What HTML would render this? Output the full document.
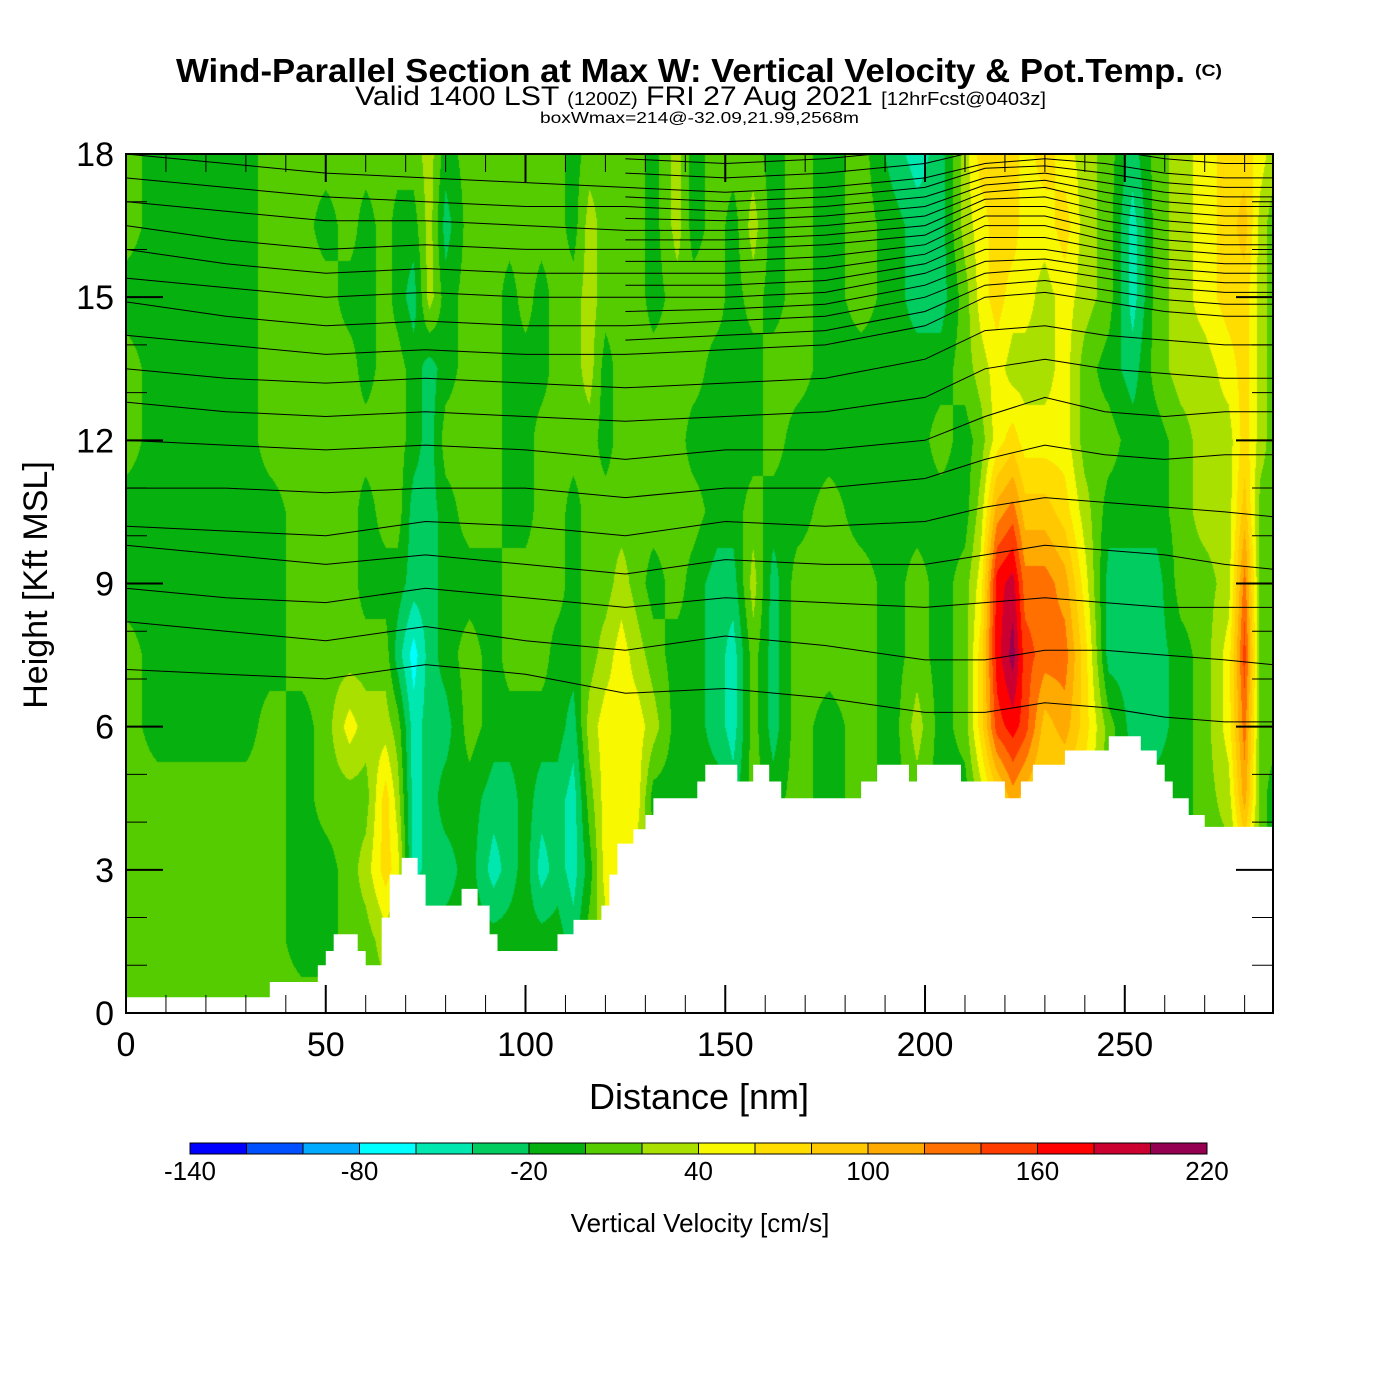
<!DOCTYPE html>
<html><head><meta charset="utf-8"><style>
html,body{margin:0;padding:0;background:#fff;width:1400px;height:1400px;overflow:hidden}
#wrap{position:relative;width:1400px;height:1400px}
#field{position:absolute;left:126px;top:154px}
#svg{position:absolute;left:0;top:0}
text{font-family:"Liberation Sans",sans-serif}
</style></head><body>
<div id="wrap">
<canvas id="field" width="1147" height="859"></canvas>
<svg id="svg" width="1400" height="1400" xmlns="http://www.w3.org/2000/svg">
<text x="176" y="82" font-size="33" font-weight="bold" textLength="1009" lengthAdjust="spacingAndGlyphs">Wind-Parallel Section at Max W: Vertical Velocity &amp; Pot.Temp.</text>
<text x="1195" y="76" font-size="17" font-weight="bold" textLength="27" lengthAdjust="spacingAndGlyphs">(C)</text>
<text x="355" y="105" font-size="27" textLength="691" lengthAdjust="spacingAndGlyphs">Valid 1400 LST <tspan font-size="18">(1200Z)</tspan> FRI 27 Aug 2021 <tspan font-size="18">[12hrFcst@0403z]</tspan></text>
<text x="540" y="123" font-size="16" textLength="319" lengthAdjust="spacingAndGlyphs">boxWmax=214@-32.09,21.99,2568m</text>
<g id="contours"></g>
<g id="terrain"></g>
<g id="ticks"></g>
<rect x="126" y="154" width="1147" height="859" fill="none" stroke="#000" stroke-width="2"/>
<g id="xlabels"></g>
<g id="ylabels"></g>
<text x="699" y="1109" font-size="36" text-anchor="middle">Distance [nm]</text>
<text transform="translate(47,585) rotate(-90)" font-size="34" text-anchor="middle">Height [Kft MSL]</text>
<g id="colorbar"></g>
<text x="700" y="1232" font-size="26" text-anchor="middle">Vertical Velocity [cm/s]</text>
</svg>
</div>
<script>
// ---- data ----
const binEdges = [-140,-120,-100,-80,-60,-40,-20,0,20,40,60,80,100,120,140,160,180,200,220];
const binColors = ["#0000ff","#0050ff","#00aaff","#00ffff","#00e8b0","#00cc60","#06b00f","#55cc00","#aae000","#f8f800","#ffdd00","#ffc800","#ffaa00","#ff7000","#ff3c00","#ff0000","#cc0030","#960050"];
const cbLabels = [-140,-80,-20,40,100,160,220];
const xTicks = [0,50,100,150,200,250];
const yTicks = [0,3,6,9,12,15,18];
const levels = [0,1.5,3,4.5,6,7.5,9,10.5,12,13.5,15,16.5,18];
const xNodes = [0,8,20,30,36,44,50,56,60,65,68,72,76,80,86,92,96,100,104,108,112,116,120,124,128,132,138,142,148,152,157,162,168,176,184,192,198,204,210,214,218,222,225,230,235,240,246,252,258,264,270,276,280,284,287];
const wCols = [
[10,10,10,10,10,10,-10,-10,10,10,-10,10,10],
[10,10,10,10,-10,-10,-10,-10,-10,-10,-10,-10,-10],
[10,10,10,10,-10,-10,-10,-10,-10,-10,-10,-10,-10],
[10,10,10,10,-10,-10,-10,-10,-10,-10,-10,-10,-10],
[10,10,10,10,10,-10,-10,-10,10,10,10,10,10],
[10,-10,-10,-10,-10,10,10,10,10,10,10,10,10],
[10,-10,-10,10,10,10,10,10,10,10,10,-10,10],
[10,10,10,10,50,10,10,10,10,10,-10,10,10],
[10,10,30,10,30,10,-10,-10,10,-10,-10,-10,10],
[10,30,70,70,30,10,-10,10,10,10,10,10,10],
[10,10,50,30,10,-30,-10,10,10,10,-10,-10,10],
[10,10,-50,-50,-50,-70,-30,-30,-10,-10,-30,-10,10],
[-10,-10,-30,-30,-30,-30,-30,-30,-30,-30,30,30,30],
[-10,-10,-30,-10,-30,-10,-10,-10,10,-10,-10,-30,-10],
[-10,-10,-10,-10,10,10,-10,10,10,10,10,10,10],
[-10,-10,-50,-30,-10,-10,-10,10,10,10,10,10,10],
[-10,-10,-30,-30,-10,10,10,-10,-10,-10,-10,10,10],
[-10,-10,-10,-10,-10,10,10,-10,-10,-10,10,10,10],
[-10,-10,-50,-30,-10,10,10,10,10,-10,-10,10,10],
[-10,-10,-30,-30,-10,-10,10,10,10,10,10,10,10],
[-30,-30,-50,-50,-30,-10,-10,-10,10,10,10,-10,-10],
[10,10,-10,10,30,10,10,10,10,30,30,30,10],
[10,30,50,50,50,30,10,10,-10,-10,10,10,10],
[10,30,50,50,50,50,30,10,10,10,10,10,10],
[10,10,30,50,50,30,10,10,10,10,10,10,10],
[10,10,10,-10,30,10,-10,10,10,10,-10,-10,-10],
[-10,-10,-10,-10,-10,-10,10,10,10,10,10,30,30],
[-10,-10,-10,-10,-10,-10,-10,10,-10,10,10,-10,-10],
[-10,-10,-10,-10,-30,-30,-30,-10,-10,-10,10,10,10],
[-10,-10,-10,-30,-50,-50,-30,-10,-10,-10,-10,-10,10],
[-10,-10,-10,10,10,10,30,10,-10,-10,10,30,10],
[-10,-10,-10,-10,-30,-30,-30,-10,10,10,-10,-10,-10],
[10,10,10,10,10,10,10,-10,-10,10,10,10,10],
[-10,-10,-10,-10,-10,10,10,10,-10,-10,-10,-10,-10],
[10,10,10,10,10,10,10,-10,-10,-10,10,10,10],
[-10,-10,-10,-10,-10,-10,-10,-10,-10,-10,-10,-10,-30],
[10,10,10,10,30,10,10,-10,-10,-10,-30,-30,-50],
[-10,-10,-10,-10,-10,-10,-10,-10,10,-10,-30,-30,-30],
[-10,-10,-10,-10,10,10,10,-10,-10,10,10,30,30],
[10,10,10,30,70,70,50,30,10,30,50,50,70],
[10,10,10,70,150,170,170,110,50,50,70,70,70],
[30,30,50,110,170,210,190,130,70,30,50,70,70],
[30,30,50,90,150,150,130,90,50,30,50,50,50],
[30,30,50,70,90,130,130,90,50,30,30,50,70],
[30,30,50,70,110,130,110,70,50,50,50,70,50],
[10,10,30,50,70,70,50,30,10,10,30,30,30],
[10,10,10,10,10,-30,-30,-10,10,-10,10,10,10],
[-10,-10,-10,-10,-30,-30,-30,-10,-10,-30,-50,-50,-30],
[-10,-10,-10,-10,-30,-30,-30,-10,-10,10,10,10,10],
[-10,-10,-10,-10,-10,-10,10,10,10,30,30,30,30],
[10,10,10,10,10,10,10,30,30,30,50,50,50],
[10,10,10,30,50,50,30,30,30,50,70,70,70],
[30,30,50,110,130,150,130,90,70,70,70,90,70],
[10,10,10,10,10,10,10,10,30,30,30,30,50],
[-10,-10,-10,-10,10,10,10,10,10,10,10,10,30]
];
// terrain steps: start distance and height (kft)
const terrX = [0,36,48,50,52,58,60,64,66,69,73,75,84,88,91,93,108,112,119,121,123,127,130,132,143,145,153,157,161,164,184,188,196,198,209,220,224,227,235,246,254,258,260,262,266,270,287];
const terrH = [0.33,0.65,1.0,1.3,1.65,1.3,1.0,2.0,2.9,3.25,2.9,2.25,2.6,2.25,1.65,1.3,1.65,1.95,2.25,2.9,3.55,3.85,4.15,4.5,4.85,5.2,4.85,5.2,4.85,4.5,4.85,5.2,4.85,5.2,4.85,4.5,4.85,5.2,5.5,5.8,5.5,5.2,4.85,4.5,4.15,3.9,3.9];
// isentropes: heights (kft) at thetaX
const thetaX = [0,25,50,75,100,125,150,175,200,215,230,245,260,275,287];
const thetaLines = [
[18.0,17.8,17.6,17.5,17.4,17.3,17.2,17.3,17.5,17.8,17.9,17.8,17.6,17.5,17.5],
[17.5,17.3,17.1,17.0,16.9,16.9,16.8,16.9,17.1,17.5,17.6,17.4,17.2,17.1,17.1],
[17.0,16.8,16.6,16.6,16.5,16.4,16.4,16.5,16.7,17.2,17.3,17.0,16.8,16.7,16.7],
[16.5,16.2,16.0,16.1,16.0,16.0,16.0,16.1,16.3,16.9,16.9,16.6,16.4,16.3,16.3],
[16.0,15.7,15.5,15.6,15.5,15.5,15.5,15.6,15.9,16.5,16.5,16.2,16.0,15.9,15.9],
[15.4,15.2,15.0,15.1,15.0,15.0,15.0,15.1,15.5,16.0,16.0,15.8,15.6,15.5,15.5],
[14.9,14.6,14.4,14.5,14.4,14.4,14.5,14.6,15.0,15.5,15.6,15.4,15.2,15.1,15.1],
[14.2,14.0,13.8,13.9,13.8,13.8,13.9,14.0,14.4,15.0,15.1,14.9,14.7,14.6,14.6],
[13.5,13.3,13.2,13.3,13.2,13.1,13.2,13.3,13.7,14.3,14.4,14.2,14.1,14.0,14.0],
[12.8,12.6,12.5,12.6,12.5,12.4,12.5,12.6,12.9,13.5,13.7,13.5,13.4,13.3,13.3],
[12.0,11.9,11.8,11.9,11.8,11.6,11.8,11.8,12.0,12.5,12.9,12.6,12.5,12.6,12.6],
[11.0,11.0,10.9,11.0,11.0,10.8,11.0,11.0,11.2,11.6,11.9,11.7,11.6,11.7,11.7],
[10.2,10.1,10.0,10.3,10.2,10.0,10.3,10.2,10.3,10.6,10.8,10.7,10.6,10.5,10.4],
[9.8,9.6,9.4,9.6,9.4,9.2,9.5,9.4,9.4,9.6,9.8,9.7,9.6,9.4,9.3],
[8.9,8.7,8.6,8.9,8.7,8.5,8.7,8.6,8.5,8.6,8.7,8.6,8.5,8.5,8.5],
[8.2,8.0,7.8,8.1,7.8,7.6,7.9,7.7,7.4,7.4,7.6,7.6,7.5,7.4,7.3],
[7.2,7.1,7.0,7.3,7.1,6.7,6.8,6.6,6.3,6.3,6.5,6.4,6.2,6.1,6.1]
];
// additional upper isentropes present only on the eastern half
const thetaX2 = [125,150,175,200,215,230,245,260,275,287];
const thetaLines2 = [
[17.9,17.8,17.9,18.1,18.4,18.5,18.4,18.2,18.1,18.1],
[17.6,17.5,17.6,17.8,18.1,18.2,18.1,17.9,17.8,17.8],
[17.1,17.0,17.1,17.3,17.7,17.75,17.6,17.4,17.3,17.3],
[16.65,16.6,16.7,16.9,17.35,17.45,17.2,17.0,16.9,16.9],
[16.2,16.2,16.3,16.5,17.05,17.1,16.8,16.6,16.5,16.5],
[15.75,15.75,15.85,16.1,16.7,16.7,16.4,16.2,16.1,16.1],
[15.25,15.25,15.35,15.7,16.25,16.25,16.0,15.8,15.7,15.7],
[14.7,14.75,14.85,15.25,15.75,15.8,15.6,15.4,15.3,15.3],
[14.1,14.2,14.3,14.7,15.25,15.35,15.15,14.95,14.85,14.85]
];
// ---- axes ----
const PX0=126, PX1=1273, PY0=1013, PY1=154, XMAX=287.1, YMAX=18;
const sx = d => PX0 + d*(PX1-PX0)/XMAX;
const sy = h => PY0 - h*(PY0-PY1)/YMAX;
const NS="http://www.w3.org/2000/svg";
function mk(tag, attrs, parent){const e=document.createElementNS(NS,tag);for(const k in attrs)e.setAttribute(k,attrs[k]);parent.appendChild(e);return e;}

// ---- field ----
(function(){
  const cv=document.getElementById('field'); const ctx=cv.getContext('2d');
  const W=cv.width,H=cv.height; const img=ctx.createImageData(W,H);
  const rgb=binColors.map(c=>[parseInt(c.substr(1,2),16),parseInt(c.substr(3,2),16),parseInt(c.substr(5,2),16)]);
  const colI=[],colT=[];
  for(let px=0;px<W;px++){
    const d=(px+0.5)*XMAX/W; let i=0;
    while(i<xNodes.length-2 && d>xNodes[i+1]) i++;
    colI.push(i); colT.push(Math.min(1,Math.max(0,(d-xNodes[i])/(xNodes[i+1]-xNodes[i]))));
  }
  for(let py=0;py<H;py++){
    const h=(H-py-0.5)*YMAX/H; let j=Math.min(levels.length-2,Math.floor(h/1.5)); const u=(h-levels[j])/1.5;
    for(let px=0;px<W;px++){
      const i=colI[px],t=colT[px];
      const a=wCols[i][j]*(1-u)+wCols[i][j+1]*u, b=wCols[i+1][j]*(1-u)+wCols[i+1][j+1]*u;
      const v=a*(1-t)+b*t;
      let k=0; while(k<binColors.length-1 && v>=binEdges[k+1]) k++;
      const o=(py*W+px)*4; img.data[o]=rgb[k][0];img.data[o+1]=rgb[k][1];img.data[o+2]=rgb[k][2];img.data[o+3]=255;
    }
  }
  ctx.putImageData(img,0,0);
})();
// ---- contours ----
(function(){
  const g=document.getElementById('contours');
  const clip=mk('clipPath',{id:'pc'},g); mk('rect',{x:PX0,y:PY1,width:PX1-PX0,height:PY0-PY1},clip);
  thetaLines.forEach((line,n)=>{
    const pts=line.map((h,i)=>sx(thetaX[i]).toFixed(1)+','+sy(h).toFixed(1)).join(' ');
    const p=mk('polyline',{points:pts,fill:'none',stroke:'#000','stroke-width':1,'clip-path':'url(#pc)'},g);
    
    
  });
  thetaLines2.forEach((line,n)=>{
    const pts=line.map((h,i)=>sx(thetaX2[i]).toFixed(1)+','+sy(h).toFixed(1)).join(' ');
    const p=mk('polyline',{points:pts,fill:'none',stroke:'#000','stroke-width':1,'clip-path':'url(#pc)'},g);
    
    
  });
})();
// ---- terrain ----
(function(){
  const g=document.getElementById('terrain');
  let d='M'+sx(0)+','+sy(0);
  for(let i=0;i<terrX.length-1;i++){
    d+=' L'+sx(terrX[i]).toFixed(1)+','+sy(terrH[i]).toFixed(1)+' L'+sx(terrX[i+1]).toFixed(1)+','+sy(terrH[i]).toFixed(1);
  }
  d+=' L'+PX1+','+sy(terrH[terrH.length-1]).toFixed(1)+' L'+PX1+','+PY0+' Z';
  const p=mk('path',{d:d,fill:'#fff'},g);
  
  
})();
// ---- ticks ----
(function(){
  const g=document.getElementById('ticks');
  for(let d=0;d<=280;d+=10){
    const maj=d%50===0, L=maj?28:18, x=sx(d);
    mk('line',{x1:x,y1:PY0,x2:x,y2:PY0-L,stroke:'#000','stroke-width':maj?2:1},g);
    mk('line',{x1:x,y1:PY1,x2:x,y2:PY1+L,stroke:'#000','stroke-width':maj?2:1},g);
  }
  for(let h=0;h<=18;h+=1){
    const maj=h%3===0, L=maj?37:21, y=sy(h);
    mk('line',{x1:PX0,y1:y,x2:PX0+L,y2:y,stroke:'#000','stroke-width':maj?2:1},g);
    mk('line',{x1:PX1,y1:y,x2:PX1-L,y2:y,stroke:'#000','stroke-width':maj?2:1},g);
  }
  const xl=document.getElementById('xlabels');
  xTicks.forEach(v=>{const t=mk('text',{x:sx(v),y:1056,'font-size':34,'text-anchor':'middle'},xl);t.textContent=v;
    });
  const yl=document.getElementById('ylabels');
  yTicks.forEach(v=>{const t=mk('text',{x:114,y:sy(v)+12,'font-size':34,'text-anchor':'end'},yl);t.textContent=v;
    });
})();
// ---- colorbar ----
(function(){
  const g=document.getElementById('colorbar'); const X0=190,X1=1207,Y=1143,Hh=11;
  const cw=(X1-X0)/binColors.length;
  binColors.forEach((c,i)=>{const r=mk('rect',{x:X0+i*cw,y:Y,width:cw,height:Hh,fill:c,stroke:'#000','stroke-width':1},g);
    });
  cbLabels.forEach(v=>{const x=X0+(v-binEdges[0])/(binEdges[binEdges.length-1]-binEdges[0])*(X1-X0);
    const t=mk('text',{x:x,y:1180,'font-size':26,'text-anchor':'middle'},g);t.textContent=v;
    });
})();
</script>
</body></html>
